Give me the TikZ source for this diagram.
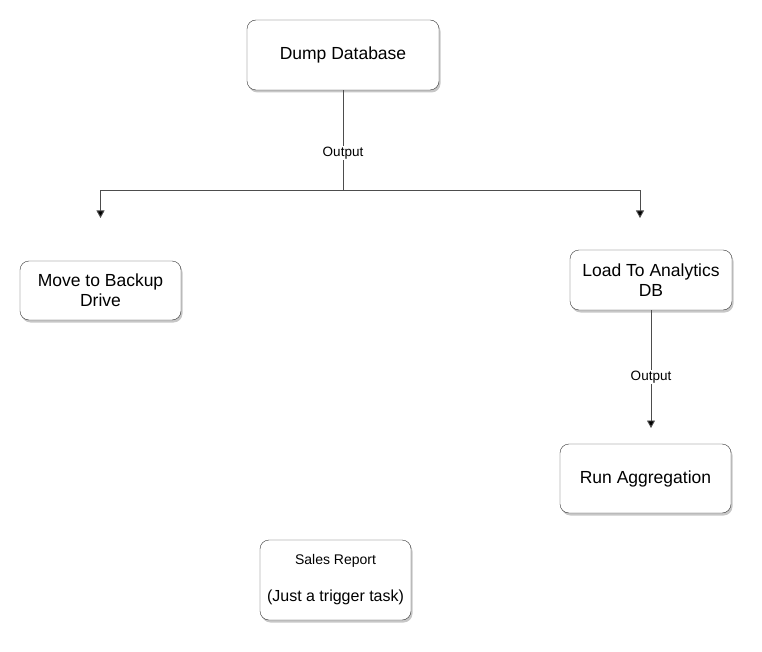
\documentclass[tikz,border=0pt]{standalone}
\usepackage{fontspec}
\setmainfont{Liberation Sans}
\usetikzlibrary{arrows.meta,shadows}
\definecolor{bordo}{HTML}{333333}
\definecolor{linea}{HTML}{4D4D4D}

\begin{document}
\begin{tikzpicture}[x=1pt,y=-1pt,
        task/.style={draw=bordo, fill=white, rounded corners=9pt, align=center,
            text=black, font=\fontsize{17.5}{20}\selectfont, inner sep=2pt,
            drop shadow={shadow xshift=1.5pt, shadow yshift=-2.5pt, opacity=0.22, fill=black}},
        freccia/.style={draw=linea, line width=0.9pt, -{Triangle[width=8pt,length=7.5pt,fill=black]}},
        etichetta/.style={fill=white, inner sep=1pt, text=black, font=\fontsize{13.5}{15}\selectfont}]
        \useasboundingbox (0,0) rectangle (762,652);
        % Task
        \node[task, minimum width=192pt, minimum height=70pt] (dump) at (343,55) {Dump Database};
        \node[task, minimum width=161pt, minimum height=59pt] (backup) at (100.5,290.5) {Move to Backup\\Drive};
        \node[task, minimum width=162pt, minimum height=60pt] (load) at (651,280) {Load To Analytics\\DB};
        \node[task, minimum width=171pt, minimum height=69pt] (aggr) at (645.5,478.5) {Run Aggregation};
        \node[task, minimum width=151pt, minimum height=80pt, font=\fontsize{16}{19}\selectfont] (report) at (335.5,580)
            {{\fontsize{14}{16}\selectfont Sales Report}\\[18pt](Just a trigger task)};
        % Frecce
        \coordinate (fork) at (343,190);
        \coordinate (versoBackup) at (100.5,218);
        \coordinate (versoLoad) at (640,218);
        \coordinate (versoAggr) at (651,428);
        \draw[freccia] (dump) -- (fork) -| (versoBackup);
        \draw[freccia] (fork) -| (versoLoad);
        \path (dump.south) -- (fork) node[etichetta, pos=0.63] {Output};
        \draw[freccia] (load) -- (versoAggr) node[etichetta, pos=0.57] {Output};
    \end{tikzpicture}
\end{document}
